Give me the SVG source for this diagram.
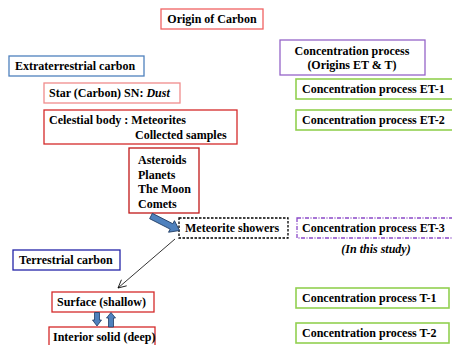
<svg xmlns="http://www.w3.org/2000/svg" width="452" height="345" viewBox="0 0 452 345">
<style>
text{font-family:"Liberation Serif","Times New Roman",serif;font-size:12px;font-weight:bold;fill:#000}
.b{fill:#fff;stroke-width:1.3}
.red{stroke:#d42a2a}
.green{stroke:#92d050;stroke-width:1.6}
.blk{fill:#4f81bd;stroke:#1f3b63;stroke-width:0.8}
</style>
<defs>
<marker id="ah" markerWidth="10" markerHeight="10" refX="9" refY="5" orient="auto" markerUnits="userSpaceOnUse">
<path d="M1,1 L9,5 L1,9" fill="none" stroke="#000" stroke-width="0.8"/>
</marker>
</defs>
<rect width="452" height="345" fill="#fff"/>

<g id="origin"><rect class="b" x="161" y="9" width="102" height="20" stroke="#f06262"/><text x="212" y="23" text-anchor="middle">Origin of Carbon</text></g>
<g id="extra"><rect class="b" x="9" y="56" width="135" height="20" stroke="#4f81bd"/><text x="15" y="70">Extraterrestrial carbon</text></g>
<g id="star"><rect class="b" x="44" y="83" width="136" height="20" stroke="#f08c8c"/><text x="49" y="97">Star (Carbon) SN: <tspan font-style="italic">Dust</tspan></text></g>
<g id="celestial"><rect class="b red" x="44" y="110" width="193" height="34"/><text x="49" y="124">Celestial body : Meteorites</text><text x="135" y="139">Collected samples</text></g>
<g id="bodies"><rect class="b" x="129" y="148" width="70" height="65" stroke="#c01818"/>
<text x="138" y="164">Asteroids</text><text x="138" y="178.5">Planets</text><text x="138" y="193">The Moon</text><text x="138" y="207.5">Comets</text></g>
<g id="showers"><rect class="b" x="179" y="218" width="109" height="20" stroke="#000" stroke-dasharray="2.5,1.5"/><text x="185" y="232">Meteorite showers</text></g>
<g id="terrestrial"><rect class="b" x="13" y="250" width="107" height="20" stroke="#2424a8"/><text x="19" y="264">Terrestrial carbon</text></g>
<g id="surface"><rect class="b red" x="52" y="292" width="102" height="20"/><text x="57" y="306">Surface (shallow)</text></g>
<g id="interior"><rect class="b red" x="49" y="327" width="106" height="24"/><text x="53" y="341">Interior solid (deep)</text></g>

<g id="cp"><rect class="b" x="280" y="40" width="145" height="35" stroke="#9565c8"/><text x="352" y="55" text-anchor="middle">Concentration process</text><text x="352" y="69" text-anchor="middle">(Origins ET &amp; T)</text></g>
<g id="et1"><rect class="b green" x="296" y="79" width="170" height="20"/><text x="302" y="93">Concentration process ET-1</text></g>
<g id="et2"><rect class="b green" x="296" y="110" width="170" height="20"/><text x="302" y="124">Concentration process ET-2</text></g>
<g id="et3"><rect class="b" x="297" y="218" width="170" height="20" stroke="#8a48c8" stroke-dasharray="4,1.5,1,1.5"/><text x="302" y="232">Concentration process ET-3</text></g>
<g id="study"><text x="376" y="253" text-anchor="middle" font-style="italic">(In this study)</text></g>
<g id="t1"><rect class="b green" x="296" y="288" width="153" height="20"/><text x="302" y="302">Concentration process T-1</text></g>
<g id="t2"><rect class="b green" x="296" y="323" width="153" height="20"/><text x="302" y="337">Concentration process T-2</text></g>

<g id="connectors">
<path class="blk" transform="translate(151,216) rotate(27)" d="M0,-3 L23,-3 L23,-6.5 L32,0 L23,6.5 L23,3 L0,3 Z"/>
<line x1="175" y1="239" x2="118" y2="288" stroke="#000" stroke-width="0.8" marker-end="url(#ah)"/>
<path class="blk" d="M94.5,312.5 L99.5,312.5 L99.5,320 L101.5,320 L97,326 L92.5,320 L94.5,320 Z"/>
<path class="blk" d="M108.5,327 L113.5,327 L113.5,318 L115.5,318 L111,312.5 L106.5,318 L108.5,318 Z"/>
</g>
</svg>
